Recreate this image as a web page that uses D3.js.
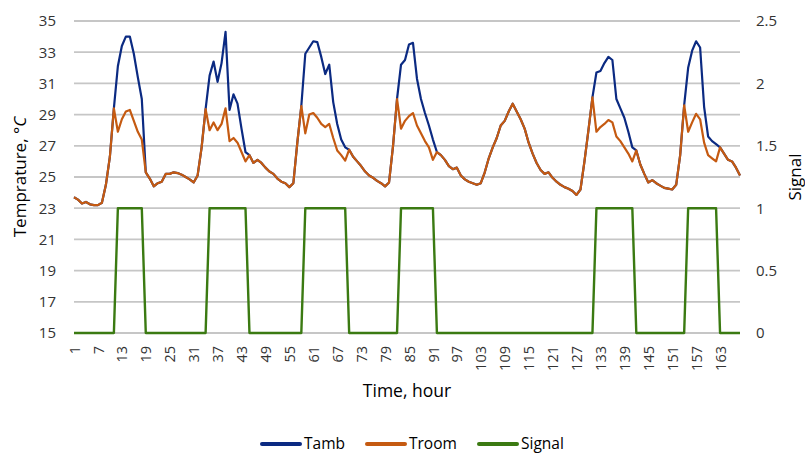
<!DOCTYPE html>
<html>
<head>
<meta charset="utf-8">
<script src="https://cdn.jsdelivr.net/npm/d3@7"></script>
<style>
  body { margin: 0; background: #fff; }
  text { font-family: "Open Sans", sans-serif; }
</style>
</head>
<body>
<div id="chart"></div>
<script>
// hours on the category axis
var hours = d3.range(1, 169);
var xTicks = [1, 7, 13, 19, 25, 31, 37, 43, 49, 55, 61, 67, 73, 79, 85, 91, 97, 103, 109, 115, 121, 127, 133, 139, 145, 151, 157, 163];
var leftTicks = [15, 17, 19, 21, 23, 25, 27, 29, 31, 33, 35];
var rightTicks = [0, 0.5, 1, 1.5, 2, 2.5];

var tamb = [
  23.7, 23.55, 23.3, 23.4, 23.25, 23.2, 23.2, 23.35, 24.5, 26.3,
  29.4, 32.1, 33.4, 34.0, 34.0, 32.9, 31.4, 30.0, 25.3, 24.9,
  24.4, 24.6, 24.7, 25.2, 25.2, 25.3, 25.25, 25.15, 25.0, 24.85,
  24.65, 25.1, 26.9, 29.35, 31.5, 32.4, 31.1, 32.3, 34.3, 29.3,
  30.3, 29.7, 28.1, 26.6, 26.4, 25.9, 26.1, 25.9, 25.6, 25.35,
  25.2, 24.9, 24.7, 24.6, 24.35, 24.6, 27.2, 29.55, 32.9, 33.3,
  33.7, 33.65, 32.7, 31.6, 32.2, 29.8, 28.4, 27.4, 26.9, 26.75,
  26.3, 26.0, 25.7, 25.35, 25.1, 24.95, 24.75, 24.6, 24.4, 24.65,
  27.0, 30.0, 32.2, 32.5, 33.5, 33.6, 31.3, 30.0, 29.1, 28.3,
  27.4, 26.6, 26.4, 26.1, 25.7, 25.5, 25.6, 25.1, 24.85, 24.7,
  24.6, 24.5, 24.6, 25.3, 26.2, 26.9, 27.5, 28.3, 28.6, 29.2,
  29.7, 29.2, 28.7, 28.1, 27.2, 26.5, 25.9, 25.45, 25.2, 25.3,
  24.95, 24.7, 24.5, 24.35, 24.25, 24.1, 23.85, 24.2, 26.0, 28.0,
  30.1, 31.7, 31.8, 32.3, 32.7, 32.5, 30.0, 29.4, 28.8, 27.9,
  26.9, 26.7, 25.8, 25.2, 24.65, 24.8, 24.6, 24.45, 24.3, 24.25,
  24.2, 24.5, 26.4, 29.6, 32.0, 33.1, 33.7, 33.3, 29.5, 27.6,
  27.3, 27.1, 26.9, 26.5, 26.1, 26.0, 25.6, 25.1
];

var troom = [
  23.7, 23.55, 23.3, 23.4, 23.25, 23.2, 23.2, 23.35, 24.5, 26.3,
  29.4, 27.9, 28.7, 29.2, 29.3, 28.6, 27.9, 27.4, 25.3, 24.9,
  24.4, 24.6, 24.7, 25.2, 25.2, 25.3, 25.25, 25.15, 25.0, 24.85,
  24.65, 25.1, 26.9, 29.35, 28.0, 28.5, 28.0, 28.4, 29.4, 27.3,
  27.5, 27.2, 26.6, 26.0, 26.4, 25.9, 26.1, 25.9, 25.6, 25.35,
  25.2, 24.9, 24.7, 24.6, 24.35, 24.6, 27.2, 29.55, 27.8, 29.0,
  29.1, 28.8, 28.4, 28.2, 28.4, 27.5, 26.7, 26.4, 26.05, 26.75,
  26.3, 26.0, 25.7, 25.35, 25.1, 24.95, 24.75, 24.6, 24.4, 24.65,
  27.0, 30.0, 28.1, 28.6, 28.9, 29.1, 28.3, 27.8, 27.3, 26.9,
  26.1, 26.6, 26.4, 26.1, 25.7, 25.5, 25.6, 25.1, 24.85, 24.7,
  24.6, 24.5, 24.6, 25.3, 26.2, 26.9, 27.5, 28.3, 28.6, 29.2,
  29.7, 29.2, 28.7, 28.1, 27.2, 26.5, 25.9, 25.45, 25.2, 25.3,
  24.95, 24.7, 24.5, 24.35, 24.25, 24.1, 23.85, 24.2, 26.0, 28.0,
  30.1, 27.9, 28.2, 28.4, 28.65, 28.5, 27.6, 27.3, 26.9, 26.5,
  26.0, 26.7, 25.8, 25.2, 24.65, 24.8, 24.6, 24.45, 24.3, 24.25,
  24.2, 24.5, 26.4, 29.6, 27.9, 28.5, 29.05, 28.7, 27.2, 26.4,
  26.2, 26.0, 26.9, 26.5, 26.1, 26.0, 25.6, 25.1
];

var signal = [
  0, 0, 0, 0, 0, 0, 0, 0, 0, 0,
  0, 1, 1, 1, 1, 1, 1, 1, 0, 0,
  0, 0, 0, 0, 0, 0, 0, 0, 0, 0,
  0, 0, 0, 0, 1, 1, 1, 1, 1, 1,
  1, 1, 1, 1, 0, 0, 0, 0, 0, 0,
  0, 0, 0, 0, 0, 0, 0, 0, 1, 1,
  1, 1, 1, 1, 1, 1, 1, 1, 1, 0,
  0, 0, 0, 0, 0, 0, 0, 0, 0, 0,
  0, 0, 1, 1, 1, 1, 1, 1, 1, 1,
  1, 0, 0, 0, 0, 0, 0, 0, 0, 0,
  0, 0, 0, 0, 0, 0, 0, 0, 0, 0,
  0, 0, 0, 0, 0, 0, 0, 0, 0, 0,
  0, 0, 0, 0, 0, 0, 0, 0, 0, 0,
  0, 1, 1, 1, 1, 1, 1, 1, 1, 1,
  1, 0, 0, 0, 0, 0, 0, 0, 0, 0,
  0, 0, 0, 0, 1, 1, 1, 1, 1, 1,
  1, 1, 0, 0, 0, 0, 0, 0
];

var seriesNames = ["Tamb", "Troom", "Signal"];
var colors = { Tamb: "#0b2a82", Troom: "#c55a11", Signal: "#3b7a12" };

var W = 805, H = 453;
var plot = { left: 74, right: 740, top: 21, bottom: 333 };

var svg = d3.select("#chart").append("svg")
  .attr("width", W)
  .attr("height", H);

var x = d3.scalePoint()
  .domain(hours)
  .range([plot.left, plot.right]);

var yL = d3.scaleLinear().domain([15, 35]).range([plot.bottom, plot.top]);
var yR = d3.scaleLinear().domain([0, 2.5]).range([plot.bottom, plot.top]);

// gridlines
svg.append("g")
  .selectAll("line")
  .data(leftTicks)
  .enter()
  .append("line")
    .attr("x1", plot.left)
    .attr("x2", plot.right)
    .attr("y1", function(d) { return yL(d); })
    .attr("y2", function(d) { return yL(d); })
    .attr("stroke", "#c6c6c6")
    .attr("stroke-width", 1.8);

// left axis
var gL = svg.append("g")
  .attr("transform", "translate(" + plot.left + ",0)")
  .call(d3.axisLeft(yL).tickValues(leftTicks).tickSize(0).tickPadding(18));
gL.select(".domain").remove();
gL.selectAll("text").style("font-size", "15px").style("fill", "#333").style("font-family", "Open Sans");

// right axis
var gR = svg.append("g")
  .attr("transform", "translate(" + plot.right + ",0)")
  .call(d3.axisRight(yR).tickValues(rightTicks).tickSize(0).tickPadding(16).tickFormat(d3.format("~g")));
gR.select(".domain").remove();
gR.selectAll("text").style("font-size", "15px").style("fill", "#333").style("font-family", "Open Sans");

// bottom axis, rotated labels
var gB = svg.append("g")
  .attr("transform", "translate(0," + plot.bottom + ")")
  .call(d3.axisBottom(x).tickValues(xTicks).tickSize(0));
gB.select(".domain").remove();
gB.selectAll("text")
  .attr("transform", "rotate(-90)")
  .attr("x", -13)
  .attr("y", 0)
  .attr("dy", "0.35em")
  .attr("text-anchor", "end")
  .style("font-size", "14.5px").style("fill", "#333").style("font-family", "Open Sans");

// lines
var lineL = d3.line()
  .x(function(d, i) { return x(hours[i]); })
  .y(function(d) { return yL(d); });
var lineR = d3.line()
  .x(function(d, i) { return x(hours[i]); })
  .y(function(d) { return yR(d); });

svg.append("path")
  .datum(tamb)
  .attr("d", lineL)
  .attr("fill", "none")
  .attr("stroke", colors.Tamb)
  .attr("stroke-width", 2.2)
  .attr("stroke-linejoin", "round");

svg.append("path")
  .datum(troom)
  .attr("d", lineL)
  .attr("fill", "none")
  .attr("stroke", colors.Troom)
  .attr("stroke-width", 2.2)
  .attr("stroke-linejoin", "round");

svg.append("path")
  .datum(signal)
  .attr("d", lineR)
  .attr("fill", "none")
  .attr("stroke", colors.Signal)
  .attr("stroke-width", 2.4)
  .attr("stroke-linejoin", "round");

// axis titles
var leftTitle = svg.append("text")
  .attr("transform", "translate(26," + (plot.top + plot.bottom) / 2 + ") rotate(-90)")
  .attr("text-anchor", "middle")
  .style("font-size", "17px")
  .style("fill", "#000");
leftTitle.append("tspan").text("Temprature, °");
leftTitle.append("tspan").style("font-style", "italic").text("C");

svg.append("text")
  .attr("transform", "translate(801," + (plot.top + plot.bottom) / 2 + ") rotate(-90)")
  .attr("text-anchor", "middle")
  .style("font-size", "17px")
  .style("fill", "#000")
  .text("Signal");

svg.append("text")
  .attr("x", 407)
  .attr("y", 397)
  .attr("text-anchor", "middle")
  .style("font-size", "17.5px")
  .style("fill", "#000")
  .text("Time, hour");

// legend
var legendX = { Tamb: 260, Troom: 365, Signal: 477 };
var leg = svg.append("g");
seriesNames.forEach(function(name) {
  leg.append("line")
    .attr("x1", legendX[name] + 2)
    .attr("x2", legendX[name] + 40)
    .attr("y1", 444)
    .attr("y2", 444)
    .attr("stroke", colors[name])
    .attr("stroke-width", 4)
    .attr("stroke-linecap", "round");
  leg.append("text")
    .attr("x", legendX[name] + 44)
    .attr("y", 449)
    .style("font-size", "15.5px")
    .style("fill", "#000")
    .text(name);
});
</script>
</body>
</html>
